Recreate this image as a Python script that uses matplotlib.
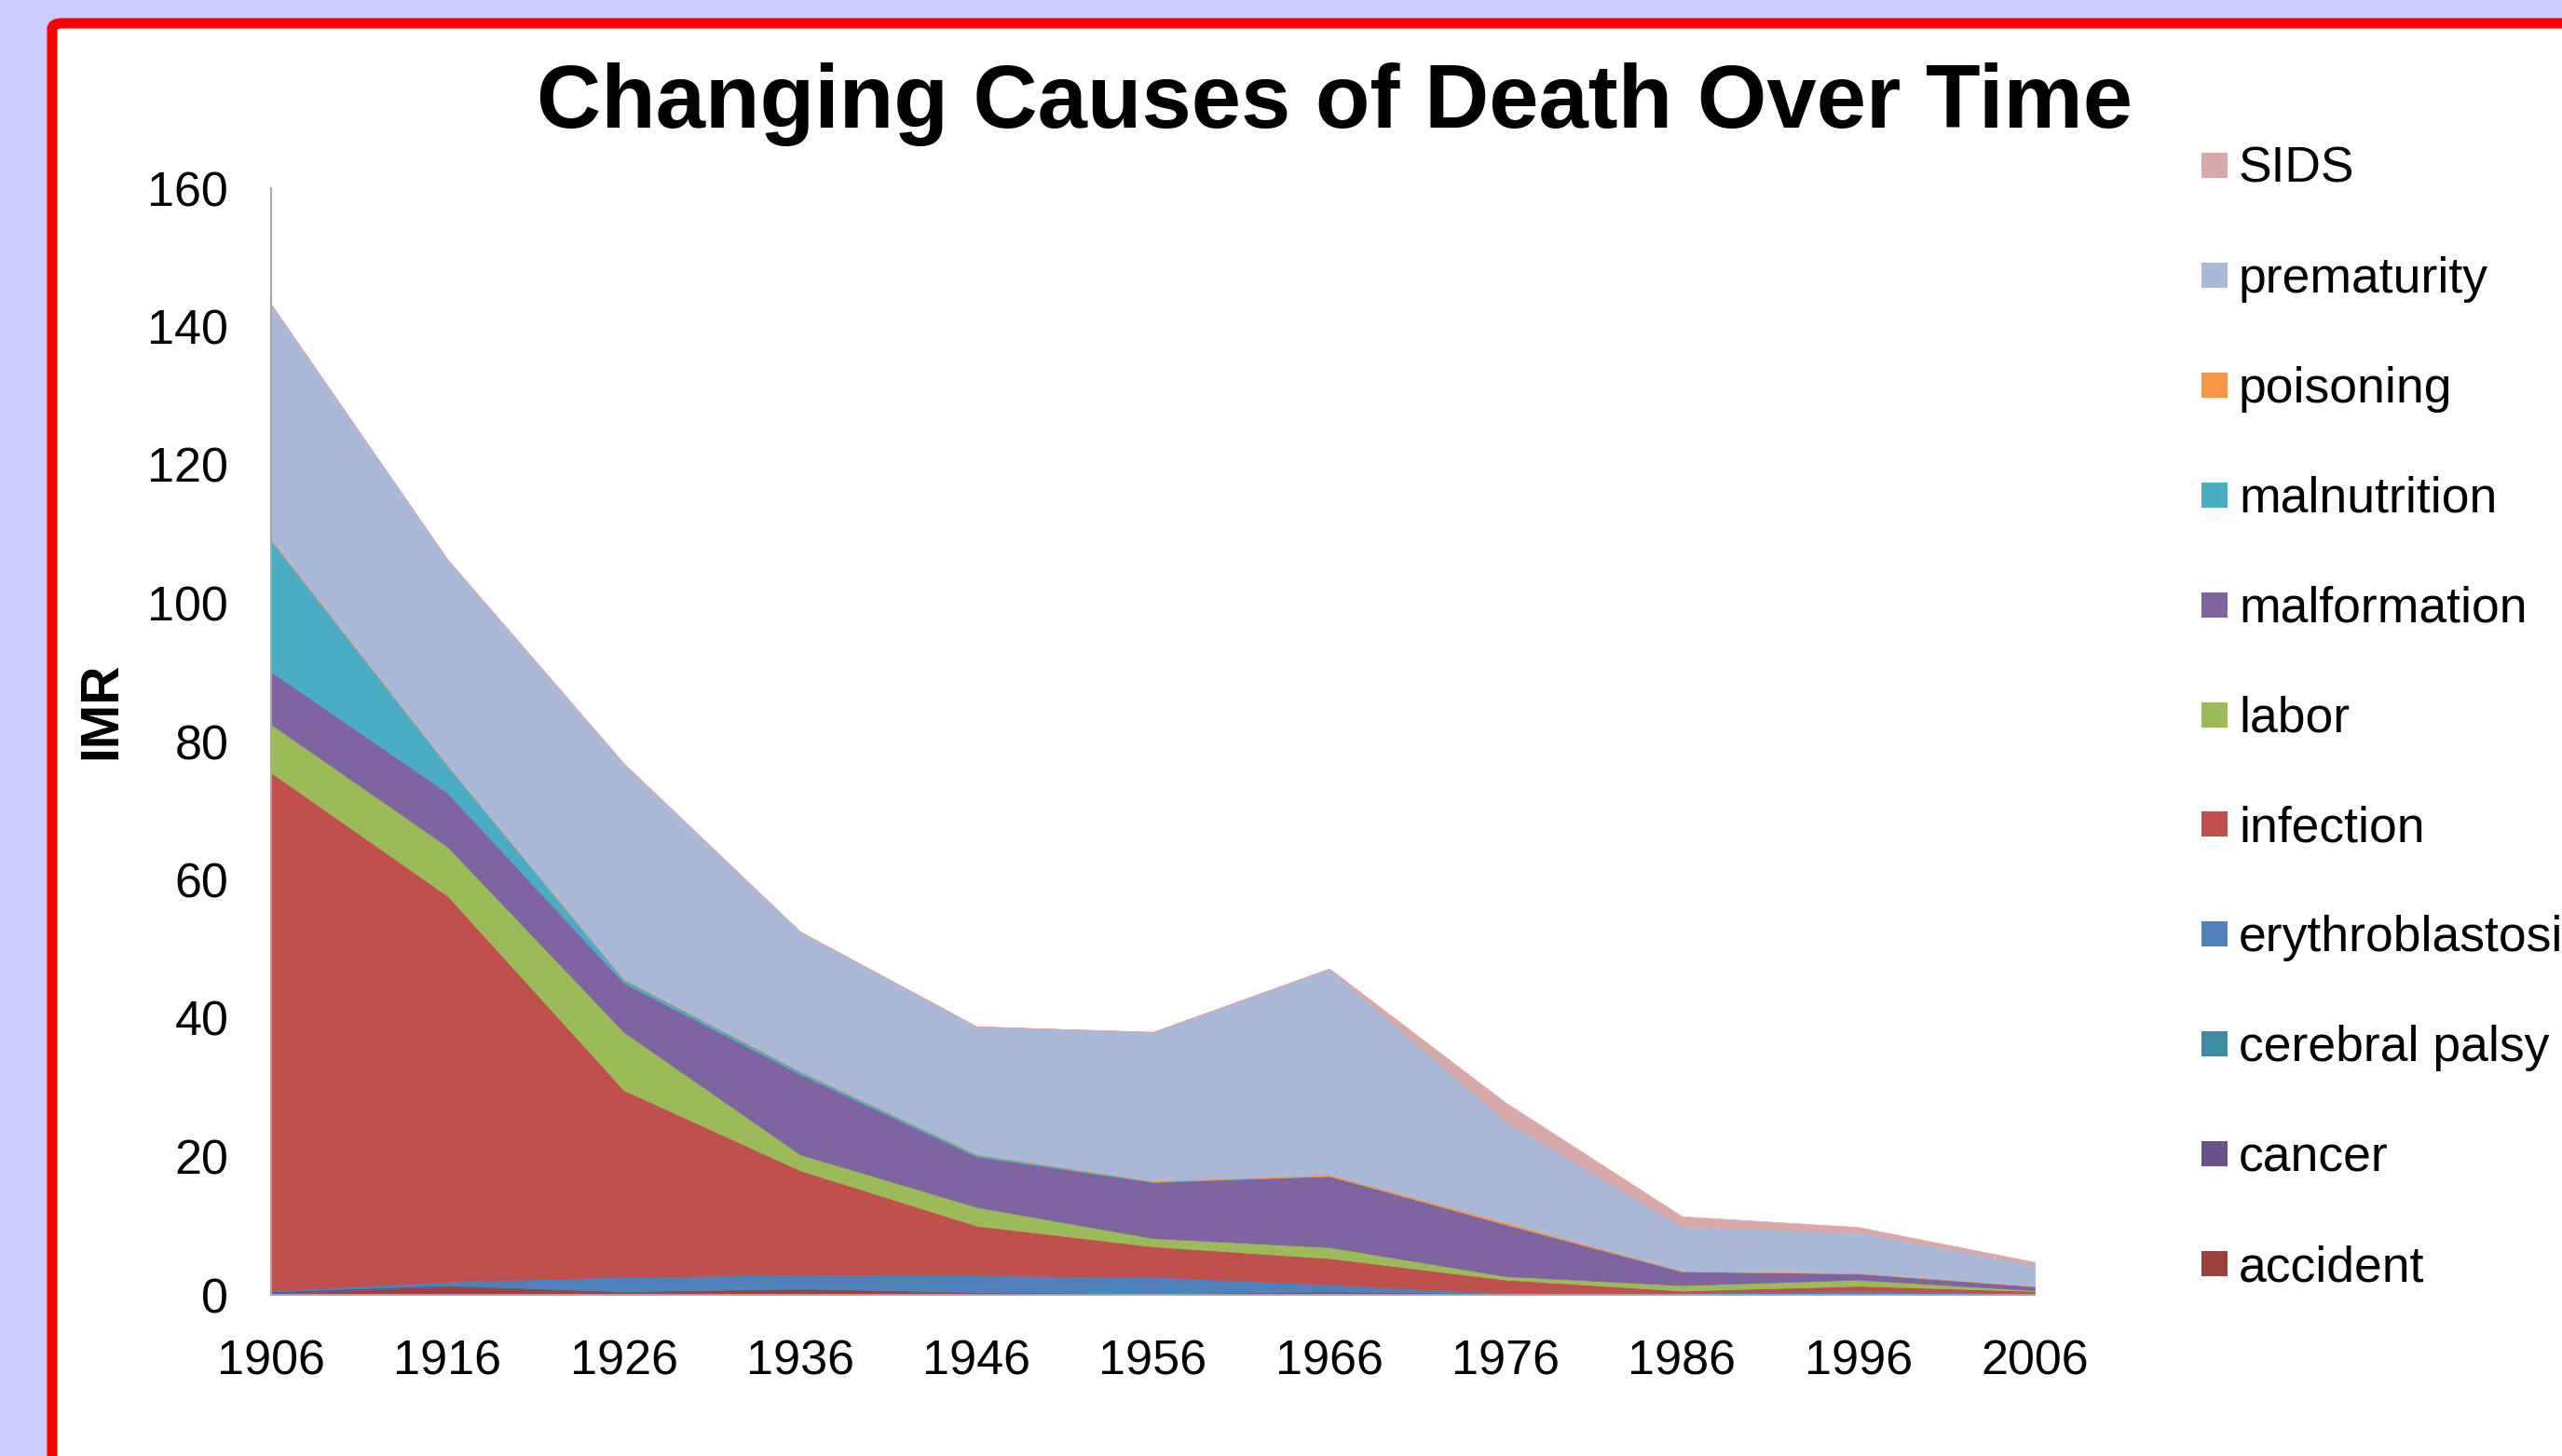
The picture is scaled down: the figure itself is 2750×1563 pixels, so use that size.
import matplotlib
matplotlib.use('Agg')
import matplotlib.pyplot as plt
from matplotlib.patches import FancyBboxPatch, Rectangle

plt.rcParams['font.family'] = ['Liberation Sans', 'DejaVu Sans']

# Dados
anos = [1906, 1916, 1926, 1936, 1946, 1956, 1966, 1976, 1986, 1996, 2006]

accident = [0.1, 1.2, 0.4, 0.8, 0.3, 0.1, 0.2, 0.1, 0.1, 0.2, 0.1]
cancer = [0.4, 0.2, 0.1, 0.1, 0.1, 0.1, 0.3, 0.1, 0.1, 0.1, 0.1]
cerebral_palsy = [0.0, 0.1, 0.2, 0.1, 0.1, 0.1, 0.1, 0.0, 0.0, 0.0, 0.0]
erythroblastosis = [0.1, 0.4, 1.9, 1.9, 2.3, 2.3, 0.9, 0.0, 0.1, 0.3, 0.0]
infection = [74.9, 55.8, 27.0, 15.1, 7.2, 4.4, 3.8, 2.0, 0.3, 0.7, 0.35]
labor = [7.0, 7.1, 8.4, 2.3, 2.7, 1.2, 1.6, 0.5, 0.8, 0.9, 0.1]
malformation = [7.6, 7.8, 7.1, 11.6, 7.3, 8.1, 10.3, 7.5, 2.0, 0.9, 0.6]
malnutrition = [19.0, 3.9, 0.5, 0.4, 0.3, 0.1, 0.0, 0.0, 0.0, 0.0, 0.0]
poisoning = [0.2, 0.1, 0.1, 0.1, 0.1, 0.1, 0.2, 0.3, 0.1, 0.1, 0.05]
prematurity = [33.9, 29.7, 31.1, 20.1, 18.4, 21.5, 29.7, 14.6, 6.4, 5.8, 3.0]
sids = [0.0, 0.0, 0.0, 0.0, 0.0, 0.0, 0.1, 2.7, 1.45, 0.8, 0.45]

series = [accident, cancer, cerebral_palsy, erythroblastosis, infection, labor,
          malformation, malnutrition, poisoning, prematurity, sids]
nomes = ['accident', 'cancer', 'cerebral palsy', 'erythroblastosis', 'infection', 'labor',
         'malformation', 'malnutrition', 'poisoning', 'prematurity', 'SIDS']
cores = ['#9E413E', '#6A5289', '#3C8DA3', '#4F81BD', '#C0504D', '#9BBB59',
         '#8064A2', '#4BACC6', '#F79646', '#AAB9D7', '#D9A9A9']

W, H = 2750, 1563
fig = plt.figure(figsize=(W / 100, H / 100), dpi=100, facecolor='#CCCCFF')

# moldura vermelha com fundo branco
moldura = FancyBboxPatch((56 / W, -0.1), 1.2, 1.1 - 25 / H,
                         boxstyle='round,pad=0,rounding_size=0.004',
                         transform=fig.transFigure, facecolor='white',
                         edgecolor='#FF0000', linewidth=8, zorder=-10)
fig.patches.append(moldura)

ax = fig.add_axes([291 / W, 1 - 1390 / H, (2184 - 291) / W, (1390 - 202) / H])
ax.set_facecolor('none')
ax.set_zorder(5)

polys = ax.stackplot(anos, *series, colors=cores, labels=nomes)
for p, c in zip(polys, cores):
    p.set_edgecolor(c)
    p.set_linewidth(0.5)

ax.set_xlim(1906, 2006)
ax.set_ylim(0, 160)
ax.set_xticks(anos)
ax.set_yticks(range(0, 161, 20))
ax.tick_params(length=0, labelsize=37.5)
ax.tick_params(axis='y', pad=33)
ax.tick_params(axis='x', pad=34)
for s in ['top', 'right']:
    ax.spines[s].set_visible(False)
for s in ['left', 'bottom']:
    ax.spines[s].set_color('#A6A6A6')
    ax.spines[s].set_linewidth(1.5)

# Títulos
fig.text(1433 / W, 1 - 137 / H, 'Changing Causes of Death Over Time',
         fontsize=69, fontweight='bold', ha='center', va='baseline')
fig.text(109 / W, 1 - 763 / H, 'IMR', fontsize=41, fontweight='bold',
         rotation=90, ha='center', va='center')

# Legenda (ordem invertida)
for i, (nome, cor) in enumerate(zip(nomes[::-1], cores[::-1])):
    yc = 177 + i * 117.9
    fig.patches.append(Rectangle((2363 / W, 1 - (yc + 14) / H), 28 / W, 27 / H,
                                 transform=fig.transFigure, facecolor=cor,
                                 edgecolor='none'))
    fig.text(2403 / W, 1 - (yc + 19) / H, nome, fontsize=38.5, ha='left', va='baseline')

plt.savefig('out.png', dpi=100, facecolor=fig.get_facecolor())
